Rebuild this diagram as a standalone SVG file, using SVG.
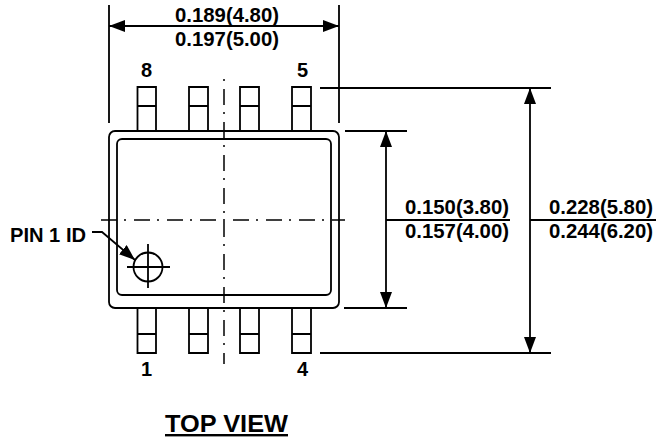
<svg xmlns="http://www.w3.org/2000/svg" width="656" height="440" viewBox="0 0 656 440">
<style>
.l{fill:none;stroke:#000;stroke-width:1.8}
.c{fill:none;stroke:#000;stroke-width:1.5;stroke-dasharray:16 7 2 8}
text{font-family:"Liberation Sans",Arial,sans-serif;font-weight:bold;font-size:20px;fill:#000}
</style>
<defs>
<marker id="a" markerUnits="userSpaceOnUse" markerWidth="16" markerHeight="12" refX="16" refY="6" orient="auto-start-reverse"><path d="M0 0L16 6L0 12Z" fill="#000"/></marker>
</defs>
<rect width="656" height="440" fill="#fff"/>
<g id="package">
<rect class="l" x="109" y="131" width="230" height="177" rx="6"/>
<rect class="l" x="117" y="139" width="214" height="156" rx="5"/>
</g>
<g id="pins" class="l">
<path d="M137.500 131V87H156V131M137.500 106H156M189 131V87H208V131M189 106H208M240 131V87H259V131M240 106H259M292 131V87H311V131M292 106H311"/>
<path d="M137.500 308V353H156V308M137.500 334H156M189 308V353H208V308M189 334H208M240 308V353H259V308M240 334H259M292 308V353H311V308M292 334H311"/>
</g>
<g id="pin1-mark" class="l">
<circle cx="148" cy="267" r="14.500"/>
<path d="M127 267H170M148 244V288"/>
</g>
<g id="connectors">
<path class="c" d="M224 79V364" stroke-dashoffset="23"/>
<path class="c" d="M101 220H345"/>
<path class="l" d="M109 5V123M339 5V123M320 88H551M320 353H551M345 131H407M344 308H407M386 220H510M530 220H656"/>
<path class="l" d="M109 26H339" marker-start="url(#a)" marker-end="url(#a)"/>
<path class="l" d="M386 131V308" marker-start="url(#a)" marker-end="url(#a)"/>
<path class="l" d="M530 88V353" marker-start="url(#a)" marker-end="url(#a)"/>
<path class="l" d="M92 232H102L135 260" marker-end="url(#a)"/>
</g>
<g id="labels">
<text x="175" y="22" textLength="104" lengthAdjust="spacingAndGlyphs">0.189(4.80)</text>
<text x="175" y="46" textLength="104" lengthAdjust="spacingAndGlyphs">0.197(5.00)</text>
<text x="405" y="214" textLength="104" lengthAdjust="spacingAndGlyphs">0.150(3.80)</text>
<text x="405" y="238" textLength="104" lengthAdjust="spacingAndGlyphs">0.157(4.00)</text>
<text x="549" y="214" textLength="104" lengthAdjust="spacingAndGlyphs">0.228(5.80)</text>
<text x="549" y="238" textLength="104" lengthAdjust="spacingAndGlyphs">0.244(6.20)</text>
<text x="141" y="77">8</text>
<text x="297" y="77">5</text>
<text x="141" y="376">1</text>
<text x="297" y="376">4</text>
<text x="10" y="242" textLength="76" lengthAdjust="spacingAndGlyphs">PIN 1 ID</text>
<text x="165" y="432" style="font-size:24px" textLength="123" lengthAdjust="spacingAndGlyphs" text-decoration="underline">TOP VIEW</text>
</g>
</svg>
